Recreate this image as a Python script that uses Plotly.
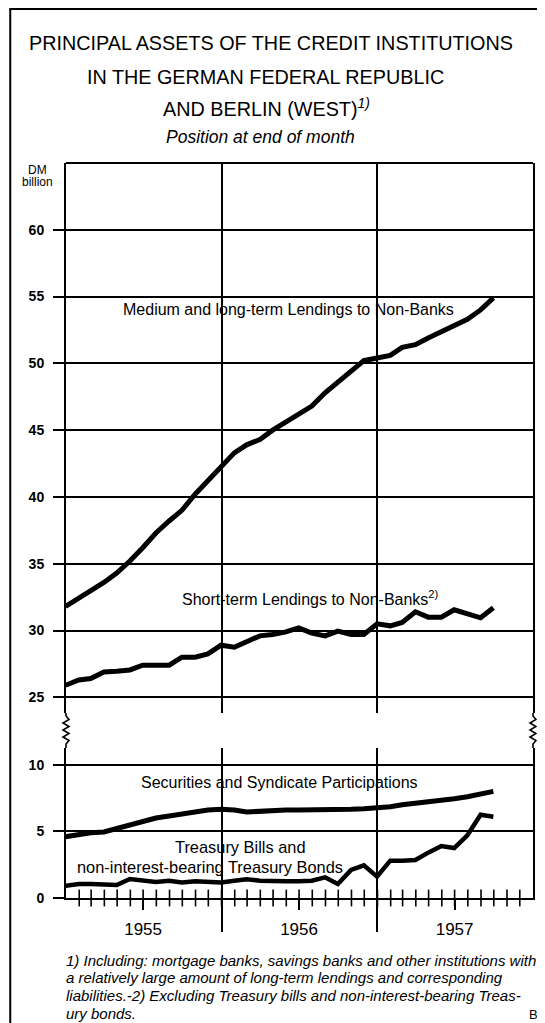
import pandas as pd
import plotly.graph_objects as go

# ---------------- data ----------------
months = pd.date_range("1954-12-31", periods=34, freq="ME")  # position at end of month
medium_long = [31.8, 32.4, 33.0, 33.6, 34.3, 35.2, 36.2, 37.3, 38.2, 39.0,
               40.2, 41.2, 42.3, 43.3, 43.9, 44.3, 45.0, 45.6, 46.2, 46.8,
               47.8, 48.6, 49.4, 50.2, 50.4, 50.6, 51.2, 51.4, 51.9, 52.4,
               52.8, 53.3, 54.0, 54.9]
short_term = [25.9, 26.3, 26.4, 26.9, 26.95, 27.05, 27.4, 27.4, 27.4, 28.0,
              28.0, 28.25, 28.9, 28.75, 29.2, 29.6, 29.7, 29.9, 30.2, 29.8,
              29.6, 29.95, 29.7, 29.7, 30.5, 30.35, 30.6, 31.4, 31.0, 31.0,
              31.55, 31.25, 30.95, 31.7]
securities = [4.6, 4.8, 4.9, 4.95, 5.2, 5.45, 5.75, 6.0, 6.15, 6.3,
              6.5, 6.6, 6.65, 6.6, 6.45, 6.5, 6.6, 6.6, 6.6, 6.6,
              6.6, 6.65, 6.65, 6.7, 6.75, 6.85, 7.0, 7.1, 7.2, 7.3,
              7.45, 7.6, 7.8, 8.0]
treasury = [0.92, 1.05, 1.05, 1.05, 0.97, 1.42, 1.3, 1.2, 1.3, 1.17,
            1.25, 1.17, 1.17, 1.3, 1.4, 1.3, 1.25, 1.25, 1.25, 1.3,
            1.55, 1.05, 2.1, 2.45, 1.6, 2.8, 2.8, 2.85, 3.4, 3.9,
            3.75, 4.7, 6.25, 6.1]
year_labels = ["1955", "1956", "1957"]
year_mid = ["1955-07-01", "1956-07-01", "1957-07-01"]
year_bounds = ["1956-01-01", "1957-01-01"]
month_ticks = pd.date_range("1955-02-01", "1957-12-01", freq="MS")
top_ticks = [25, 30, 35, 40, 45, 50, 55, 60]
bottom_ticks = [0, 5, 10]

# ---------------- geometry (reference pixel coordinates) ----------------
OFF = 8                      # default page body margin
W, H = 545 - OFF, 1023 - OFF
PLOT_L, PLOT_R, PLOT_T, PLOT_B = 66, 535, 163, 898   # plot box in reference pixels
L = PLOT_L - OFF
T = PLOT_T - OFF
R = W - (PLOT_R - OFF)
B = H - (PLOT_B - OFF)
PW, PH = PLOT_R - PLOT_L, PLOT_B - PLOT_T


def px_x(px):
    return (px - PLOT_L) / PW


def px_y(py):
    return (PLOT_B - py) / PH


TOP_BOTTOM_PX = 713
BOT_TOP_PX = 748
PX_PER_UNIT = 13.36
FONT = "Liberation Sans"
LINE_W = 5

fig = go.Figure()

fig.add_trace(go.Scatter(x=months, y=medium_long, mode="lines", xaxis="x", yaxis="y",
                         line=dict(color="black", width=LINE_W), hoverinfo="skip"))
fig.add_trace(go.Scatter(x=months, y=short_term, mode="lines", xaxis="x", yaxis="y",
                         line=dict(color="black", width=LINE_W), hoverinfo="skip"))
fig.add_trace(go.Scatter(x=months, y=securities, mode="lines", xaxis="x", yaxis="y2",
                         line=dict(color="black", width=LINE_W), hoverinfo="skip"))
fig.add_trace(go.Scatter(x=months, y=treasury, mode="lines", xaxis="x", yaxis="y2",
                         line=dict(color="black", width=4.5), hoverinfo="skip"))
# monthly cross ticks on the zero line
fig.add_trace(go.Scatter(x=month_ticks, y=[0] * len(month_ticks), mode="markers",
                         xaxis="x2", yaxis="y2", cliponaxis=False, hoverinfo="skip",
                         marker=dict(symbol="line-ns-open", size=12, color="black",
                                     line=dict(color="black", width=1.6))))

xrange = ["1955-01-01", "1958-01-01"]
fig.update_layout(
    width=W, height=H, autosize=False,
    margin=dict(l=L, r=R, t=T, b=B, pad=0),
    paper_bgcolor="white", plot_bgcolor="white",
    showlegend=False,
    font=dict(family=FONT, color="black"),
    xaxis=dict(type="date", range=xrange, domain=[0, 1], anchor="y2",
               tickvals=year_bounds, showticklabels=False, ticks="outside", ticklen=32,
               tickwidth=1.6, tickcolor="black",
               showgrid=True, gridcolor="black", gridwidth=1.6,
               showline=True, linecolor="black", linewidth=2, zeroline=False),
    xaxis2=dict(type="date", range=xrange, overlaying="x", anchor="y2",
                tickvals=year_mid, ticktext=year_labels, ticks="outside", ticklen=11,
                tickwidth=1.6, tickcolor="black", showgrid=False, showline=False,
                zeroline=False, tickfont=dict(size=17, family=FONT),
                ticklabelstandoff=5),
    yaxis=dict(domain=[px_y(TOP_BOTTOM_PX), 1],
               range=[25 - (TOP_BOTTOM_PX - 697.3) / PX_PER_UNIT, 65],
               tickvals=top_ticks, ticks="outside", ticklen=11, tickwidth=1.6,
               tickcolor="black", showgrid=True, gridcolor="black", gridwidth=1.6,
               showline=True, mirror=True, linecolor="black", linewidth=2,
               zeroline=False, tickfont=dict(size=14, family=FONT, weight="bold"),
               ticklabelstandoff=6),
    yaxis2=dict(domain=[0, px_y(BOT_TOP_PX)],
                range=[0, (898.3 - BOT_TOP_PX) / PX_PER_UNIT],
                tickvals=bottom_ticks, ticks="outside", ticklen=11, tickwidth=1.6,
                tickcolor="black", showgrid=True, gridcolor="black", gridwidth=1.6,
                showline=True, mirror=True, linecolor="black", linewidth=2,
                zeroline=False, tickfont=dict(size=14, family=FONT, weight="bold"),
                ticklabelstandoff=6),
)

# ---------------- shapes: frame, top border, axis breaks ----------------
shapes = []
# outer page frame (top + left)
shapes.append(dict(type="line", xref="paper", yref="paper",
                   x0=px_x(9), x1=px_x(560), y0=px_y(9), y1=px_y(9),
                   line=dict(color="black", width=2)))
shapes.append(dict(type="line", xref="paper", yref="paper",
                   x0=px_x(10), x1=px_x(10), y0=px_y(9), y1=px_y(1040),
                   line=dict(color="black", width=2)))
# top border of the upper panel
shapes.append(dict(type="line", xref="paper", yref="paper",
                   x0=0, x1=1, y0=1, y1=1, line=dict(color="black", width=2)))


def zigzag(xc):
    pts = [(xc, TOP_BOTTOM_PX), (xc, TOP_BOTTOM_PX + 3)]
    n = 8
    y0, y1 = TOP_BOTTOM_PX + 3, BOT_TOP_PX - 4
    step = (y1 - y0) / n
    for i in range(1, n):
        pts.append((xc + (3 if i % 2 else -3), y0 + i * step))
    pts.append((xc, y1))
    pts.append((xc, BOT_TOP_PX))
    path = "M " + " L ".join(f"{px_x(a):.5f},{px_y(b):.5f}" for a, b in pts)
    return dict(type="path", xref="paper", yref="paper", path=path,
                line=dict(color="black", width=1.6))


shapes.append(zigzag(PLOT_L))
shapes.append(zigzag(PLOT_R))
fig.update_layout(shapes=shapes)

# ---------------- annotations ----------------
ann = []


def paper_text(text, x, y, size, xanchor="center", italic=False, weight="normal"):
    t = f"<i>{text}</i>" if italic else text
    ann.append(dict(text=t, x=px_x(x), y=px_y(y), xref="paper", yref="paper",
                    xanchor=xanchor, yanchor="middle", showarrow=False,
                    font=dict(size=size, family=FONT, color="black", weight=weight)))


paper_text("PRINCIPAL ASSETS OF THE CREDIT INSTITUTIONS", 272, 43, 19.8)
paper_text("IN THE GERMAN FEDERAL REPUBLIC", 266, 77, 19.8)
paper_text("AND BERLIN (WEST)<sup><i>1)</i></sup>", 267, 108, 19.8)
paper_text("Position at end of month", 261, 137, 17.5, italic=True)
paper_text("DM", 37, 170, 12)
paper_text("billion", 37, 182, 12)

footnotes = [
    "1) Including: mortgage banks, savings banks and other institutions with",
    "a relatively large amount of long-term lendings and corresponding",
    "liabilities.-2) Excluding Treasury bills and non-interest-bearing Treas-",
    "ury bonds.",
]
for i, line in enumerate(footnotes):
    paper_text(line, 64, 960 + 17.7 * i, 15.0, xanchor="left", italic=True)
paper_text("BBk", 529, 1015, 13, xanchor="left")


def data_text(text, x, y, yref, size=16):
    ann.append(dict(text=text, x=x, y=y, xref="x", yref=yref, showarrow=False,
                    xanchor="center", yanchor="middle",
                    font=dict(size=size, family=FONT, color="black")))


data_text("Medium and long-term Lendings to Non-Banks", "1956-06-05", 54.0, "y")
data_text("Short-term Lendings to Non-Banks<sup>2)</sup>", "1956-07-28", 32.45, "y")
data_text("Securities and Syndicate Participations", "1956-05-15", 8.65, "y2")
data_text("Treasury Bills and", "1956-02-15", 3.8, "y2", 16.4)
data_text("non-interest-bearing Treasury Bonds", "1955-12-05", 2.3, "y2", 16.4)

fig.update_layout(annotations=ann)
fig.write_html("out.html")
